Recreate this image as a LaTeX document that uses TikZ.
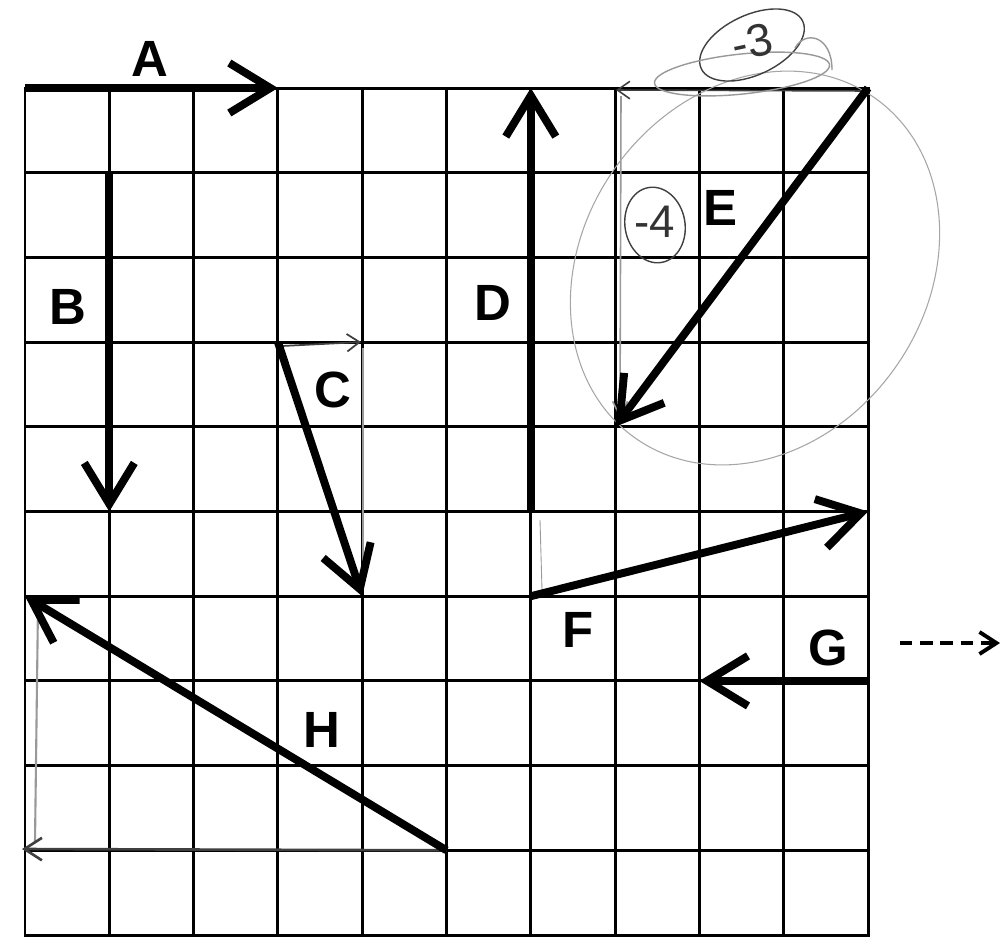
\documentclass[tikz,border=0pt]{standalone}
\usepackage{fontspec}
\setmainfont{Liberation Sans}
\usetikzlibrary{arrows.meta}
\begin{document}
\begin{tikzpicture}[x=0.02cm,y=-0.02cm,
  gridline/.style={line width=1.7pt,line cap=rect},
  vec/.style={line width=4.5pt,-{Straight Barb[length=0.82cm,width=1cm]}},
  lbl/.style={font=\fontsize{29}{29}\selectfont\bfseries,inner sep=0pt},
  pencil/.style={line width=0.6pt,black!40},
  darkpencil/.style={line width=1.3pt,black!75},
  hand/.style={text=black!80,inner sep=0pt}
  ]
\useasboundingbox (0,0) rectangle (1003,938);
\fill[white] (0,0) rectangle (1003,938);
% grid points
\foreach \i in {0,...,10}{\foreach \j in {0,...,10}{
  \coordinate (g\i-\j) at ({25+84.3*\i},{88+84.7*\j});}}
% grid
\foreach \i in {0,...,10}{\draw[gridline] (g\i-0) -- (g\i-10);}
\foreach \j in {0,...,10}{\draw[gridline] (g0-\j) -- (g10-\j);}

% pencil annotations (behind vectors)
\coordinate (eh) at (616,90);
\coordinate (ev1) at (621,96);
\coordinate (ev2) at (620,418);
\draw[darkpencil,line width=0.9pt,-{Straight Barb[length=0.25cm,width=0.35cm]}] (g10-0) ++(0,3) -- (eh);
\draw[pencil,line width=0.9pt,-{Straight Barb[length=0.3cm,width=0.3cm]}] (ev1) -- (ev2);
\draw[pencil,black!35] (755,268) ellipse [x radius=172, y radius=208, rotate=-35];
\draw[darkpencil,line width=0.8pt] (752,45) ellipse [x radius=56, y radius=30, rotate=25];
\draw[pencil,line width=0.8pt] (742,74) ellipse [x radius=88, y radius=20, rotate=6];
\draw[pencil,line width=0.8pt] (795,48) .. controls (805,30) and (832,35) .. (832,70);
\node[hand,font=\fontsize{26}{26}\selectfont,rotate=12] (m3) at (752,42) {-3};
\draw[darkpencil,line width=0.8pt] (655,225) ellipse [x radius=30, y radius=38, rotate=10];
\node[hand,font=\fontsize{26}{26}\selectfont] (m4) at (655,222) {-4};
% C components
\coordinate (ch) at (361,342);
\coordinate (cv) at (363,590);
\draw[darkpencil,line width=1pt,-{Straight Barb[length=0.25cm,width=0.35cm]}] (g3-3) ++(2,4) -- (ch);
\draw[pencil,line width=0.9pt] (ch) ++(2,6) -- (cv);
% H components
\coordinate (hv1) at (35,842);
\coordinate (hv2) at (38,605);
\coordinate (hh) at (22,849);
\draw[pencil,line width=1.2pt] (hv1) -- (hv2);
\draw[darkpencil,line width=1.5pt,-{Straight Barb[length=0.35cm,width=0.45cm]}] (g5-9) -- (hh);
% F component
\coordinate (fv1) at (540,520);
\coordinate (fv2) at (542,590);
\draw[pencil,line width=0.5pt] (fv1) -- (fv2);

% vectors
\draw[vec] (g0-0) -- (g3-0);
\draw[vec] (g1-1) -- (g1-5);
\draw[vec] (g3-3) -- (g4-6);
\draw[vec] (g6-5) -- (g6-0);
\draw[vec] (g10-0) -- (g7-4);
\draw[vec] (g6-6) -- (g10-5);
\draw[vec] (g10-7) -- (g8-7);
\draw[vec] (g5-9) -- (g0-6);

% labels
\node[lbl] (lA) at (150,59) {A};
\node[lbl] (lB) at (68,307) {B};
\node[lbl] (lC) at (333,390) {C};
\node[lbl] (lD) at (493,303) {D};
\node[lbl] (lE) at (720,208) {E};
\node[lbl] (lF) at (578,630) {F};
\node[lbl] (lG) at (828,648) {G};
\node[lbl] (lH) at (322,730) {H};

% dashed arrow
\coordinate (d1) at (900,643);
\coordinate (d2) at (1000,643);
\draw[line width=2.2pt,dash pattern=on 7pt off 4.5pt,-{Straight Barb[length=0.34cm,width=0.44cm]}] (d1) -- (d2);
\end{tikzpicture}
\end{document}
